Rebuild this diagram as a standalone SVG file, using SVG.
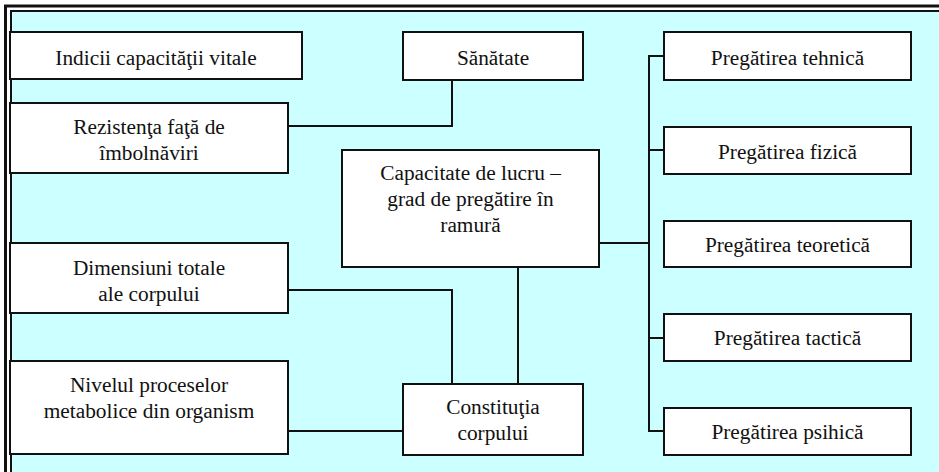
<svg xmlns="http://www.w3.org/2000/svg" width="939" height="472" viewBox="0 0 939 472">
<style>
.box{fill:#fff;stroke:#111;stroke-width:2}
.lnk{fill:none;stroke:#111;stroke-width:2}
.t{font-family:'Liberation Serif','Tinos','Times New Roman','DejaVu Serif',serif;font-size:21.33px;fill:#111;text-anchor:middle}
</style>
<rect x="0" y="0" width="939" height="472" fill="#fff"/>
<rect x="12" y="12" width="927" height="460" fill="#ccffff"/>
<g id="frame" fill="none" stroke="#111">
<path d="M5.5 472 V6 H939" stroke-width="3"/>
<path d="M11 472 V11 H939" stroke-width="2"/>
</g>
<g id="connectors">
<path class="lnk" d="M288 126 H452 V80"/>
<path class="lnk" d="M288 290 H452 V384"/>
<path class="lnk" d="M288 431 H403"/>
<path class="lnk" d="M518 267 V384"/>
<path class="lnk" d="M599 243 H649"/>
<path class="lnk" d="M664 56 H649 V431 H664"/>
<path class="lnk" d="M649 150 H664"/>
<path class="lnk" d="M649 338 H664"/>
</g>
<g id="indicii"><rect class="box" x="10" y="32" width="292" height="47"/><text class="t" x="156" y="65">Indicii capacităţii vitale</text></g>
<g id="rezistenta"><rect class="box" x="10" y="103" width="278" height="70"/><text class="t" x="149" y="134">Rezistenţa faţă de</text><text class="t" x="149" y="160">îmbolnăviri</text></g>
<g id="dimensiuni"><rect class="box" x="10" y="243" width="278" height="70"/><text class="t" x="149" y="275">Dimensiuni totale</text><text class="t" x="149" y="301">ale corpului</text></g>
<g id="nivelul"><rect class="box" x="10" y="361" width="278" height="93"/><text class="t" x="149" y="392">Nivelul proceselor</text><text class="t" x="149" y="418">metabolice din organism</text></g>
<g id="sanatate"><rect class="box" x="403" y="32" width="180" height="48"/><text class="t" x="493" y="65">Sănătate</text></g>
<g id="capacitate"><rect class="box" x="342" y="150" width="257" height="117"/><text class="t" x="470.5" y="180">Capacitate de lucru –</text><text class="t" x="470.5" y="206">grad de pregătire în</text><text class="t" x="470.5" y="232">ramură</text></g>
<g id="constitutia"><rect class="box" x="403" y="384" width="180" height="71"/><text class="t" x="493" y="414">Constituţia</text><text class="t" x="493" y="440">corpului</text></g>
<g id="tehnica"><rect class="box" x="664" y="32" width="247" height="48"/><text class="t" x="787.5" y="65">Pregătirea tehnică</text></g>
<g id="fizica"><rect class="box" x="664" y="127" width="247" height="47"/><text class="t" x="787.5" y="159">Pregătirea fizică</text></g>
<g id="teoretica"><rect class="box" x="664" y="221" width="247" height="46"/><text class="t" x="787.5" y="252">Pregătirea teoretică</text></g>
<g id="tactica"><rect class="box" x="664" y="314" width="247" height="47"/><text class="t" x="787.5" y="345">Pregătirea tactică</text></g>
<g id="psihica"><rect class="box" x="664" y="408" width="247" height="47"/><text class="t" x="787.5" y="439">Pregătirea psihică</text></g>
</svg>
